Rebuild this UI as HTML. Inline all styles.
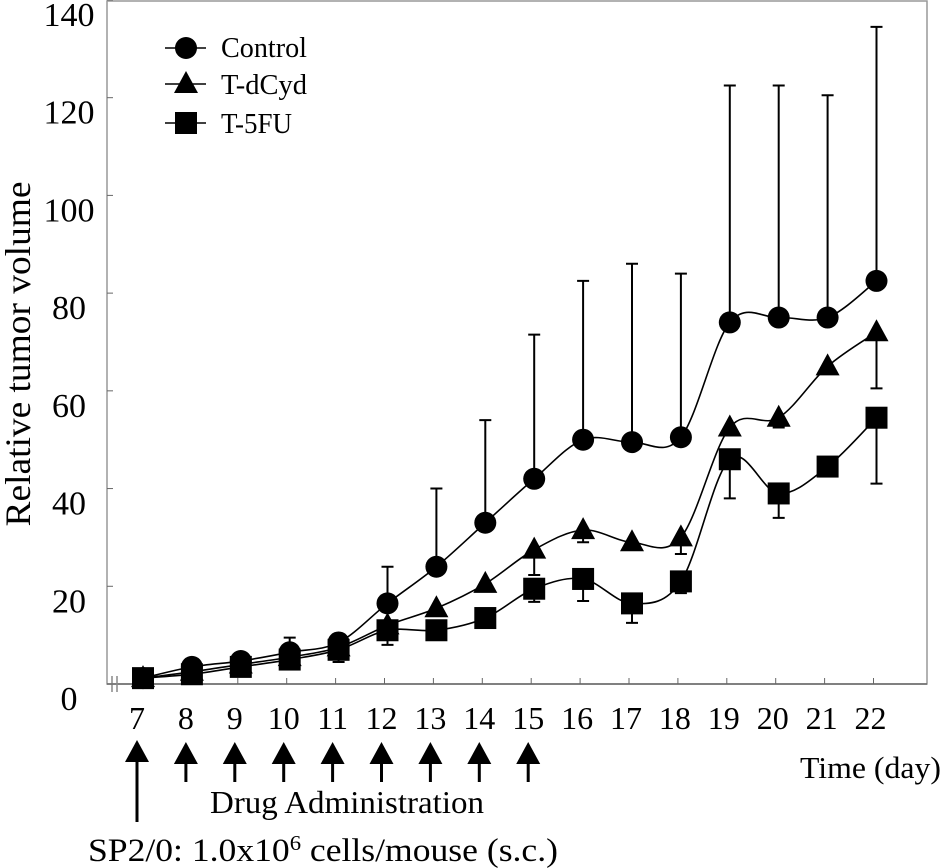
<!DOCTYPE html>
<html><head><meta charset="utf-8"><style>
body{margin:0;background:#fff;width:945px;height:868px;overflow:hidden}
svg{display:block;font-family:"Liberation Serif",serif}
</style></head><body>
<svg id="chart" width="945" height="868" viewBox="0 0 945 868"></svg>
<script>
const days=[7,8,9,10,11,12,13,14,15,16,17,18,19,20,21,22];
const controlVals=[1.2,3.5,4.7,6.5,8.5,16.5,24,33,42,50,49.5,50.5,74,75,75,82.5];
const controlErrHi=[null,null,null,9.5,null,24,40,54,71.5,82.5,86,84,122.5,122.5,120.5,134.5];
const dcydVals=[1.2,2.5,4,5.5,7.5,12,15.5,20.5,27.5,31.5,29,30,52.5,54.5,65,72];
const dcydErrLo=[null,null,null,null,null,null,null,null,22.3,29,null,26.6,null,52.5,null,60.5];
const fuVals=[1.2,2,3.5,5,7,11,11,13.5,19.5,21.5,16.5,21,46,39,44.5,54.5];
const fuErrLo=[null,null,null,null,4.5,8,null,null,16.8,17,12.5,18.6,38,34,null,41];
const yTicks=[0,20,40,60,80,100,120,140];
const drugDays=[8,9,10,11,12,13,14,15];

const NS="http://www.w3.org/2000/svg";
const svg=document.getElementById('chart');
const X=d=>143+48.9*(d-7);
const Y=v=>684-4.886*v;
function mk(tag,attrs,parent){const e=document.createElementNS(NS,tag);for(const k in attrs)e.setAttribute(k,attrs[k]);(parent||svg).appendChild(e);return e;}

let f=mk('rect',{x:107,y:1,width:820,height:683,fill:'none',stroke:'#999','stroke-width':1.5});


let ax=mk('line',{x1:107,y1:684,x2:927,y2:684,stroke:'#666','stroke-width':1.5});


let brk=mk('path',{d:'M112 676 V692 M117 676 V692',stroke:'#888','stroke-width':1.5,fill:'none'});



yTicks.forEach(v=>{
  const t=mk('line',{x1:107,y1:Y(v),x2:113,y2:Y(v),stroke:'#666'});
  
  
  const l=mk('text',{x:69,y:Y(v)+26,'font-size':34,'text-anchor':'middle'});
  l.textContent=v;
  
  
});
days.forEach(d=>{
  const t=mk('line',{x1:X(d)-3,y1:684,x2:X(d)-3,y2:678,stroke:'#666'});
  
  
  const l=mk('text',{x:X(d)-6,y:729,'font-size':32,'text-anchor':'middle'});
  l.textContent=d;
  
  
});
let yt=mk('text',{x:0,y:0,'font-size':36,'text-anchor':'middle',textLength:345,lengthAdjust:'spacingAndGlyphs',transform:'translate(30,354) rotate(-90)'});
yt.textContent='Relative tumor volume';


let xt=mk('text',{x:800,y:778,'font-size':31,textLength:141,lengthAdjust:'spacingAndGlyphs'});
xt.textContent='Time (day)';



function path(vals){
  const p=vals.map((v,i)=>[X(days[i]),Y(v)]);
  let d='M'+p[0][0]+' '+p[0][1];
  for(let i=0;i<p.length-1;i++){
    const p0=p[i-1]||p[i],p1=p[i],p2=p[i+1],p3=p[i+2]||p2;
    const c1=[p1[0]+(p2[0]-p0[0])/6,p1[1]+(p2[1]-p0[1])/6];
    const c2=[p2[0]-(p3[0]-p1[0])/6,p2[1]-(p3[1]-p1[1])/6];
    d+=` C${c1[0]} ${c1[1]} ${c2[0]} ${c2[1]} ${p2[0]} ${p2[1]}`;
  }
  return d;
}
function errs(vals,ends,name){
  ends.forEach((e,i)=>{if(e==null)return;
    const x=X(days[i]);
    const g=mk('path',{d:`M${x} ${Y(vals[i])} V${Y(e)} M${x-6} ${Y(e)} H${x+6}`,stroke:'#000','stroke-width':2,fill:'none'});
    
    
  });
}
function marker(type,x,y,name){
  let m;
  if(type==='c')m=mk('circle',{cx:x,cy:y,r:11,fill:'#000'});
  else if(type==='t')m=mk('polygon',{points:`${x},${y-13} ${x-12},${y+9} ${x+12},${y+9}`,fill:'#000'});
  else m=mk('rect',{x:x-11,y:y-11,width:22,height:22,fill:'#000'});
  
  
}
const series=[[controlVals,'c','control'],[dcydVals,'t','t-dcyd'],[fuVals,'s','t-5fu']];
errs(controlVals,controlErrHi,'control-error-bar');
errs(dcydVals,dcydErrLo,'t-dcyd-error-bar');
errs(fuVals,fuErrLo,'t-5fu-error-bar');
series.forEach(([vals,t,n])=>{
  const l=mk('path',{d:path(vals),fill:'none',stroke:'#000','stroke-width':1.6});
  
  
});
series.forEach(([vals,t,n])=>vals.forEach((v,i)=>marker(t,X(days[i]),Y(v),n+'-point')));

[['c','Control',48,57,86],['t','T-dCyd',84,94,86],['s','T-5FU',123,133,71]].forEach(([t,lab,y,by,w])=>{
  const l=mk('line',{x1:165,y1:y,x2:206,y2:y,stroke:'#000','stroke-width':1.5});
  
  
  marker(t,186,y,'legend-marker');
  const tx=mk('text',{x:221,y:by,'font-size':28,textLength:w,lengthAdjust:'spacingAndGlyphs'});
  tx.textContent=lab;
  
  
});

function arrow(x,y1,y2,name){
  const g=mk('path',{d:`M${x} ${y1+20} V${y2}`,stroke:'#000','stroke-width':3});
  
  
  const h=mk('polygon',{points:`${x},${y1} ${x-12},${y1+22} ${x+12},${y1+22}`,fill:'#000'});
  
  
}
arrow(137,740,822,'inoculation-arrow');
drugDays.forEach(d=>arrow(X(d)-6,742,782,'drug-arrow'));
let da=mk('text',{x:210,y:813,'font-size':32,textLength:274,lengthAdjust:'spacingAndGlyphs'});
da.textContent='Drug Administration';


let sp=mk('text',{x:88,y:861,'font-size':33,textLength:470,lengthAdjust:'spacingAndGlyphs'});
sp.innerHTML='SP2/0: 1.0x10<tspan font-size="21" dy="-11">6</tspan><tspan dy="11"> cells/mouse (s.c.)</tspan>';


</script>
</body></html>
